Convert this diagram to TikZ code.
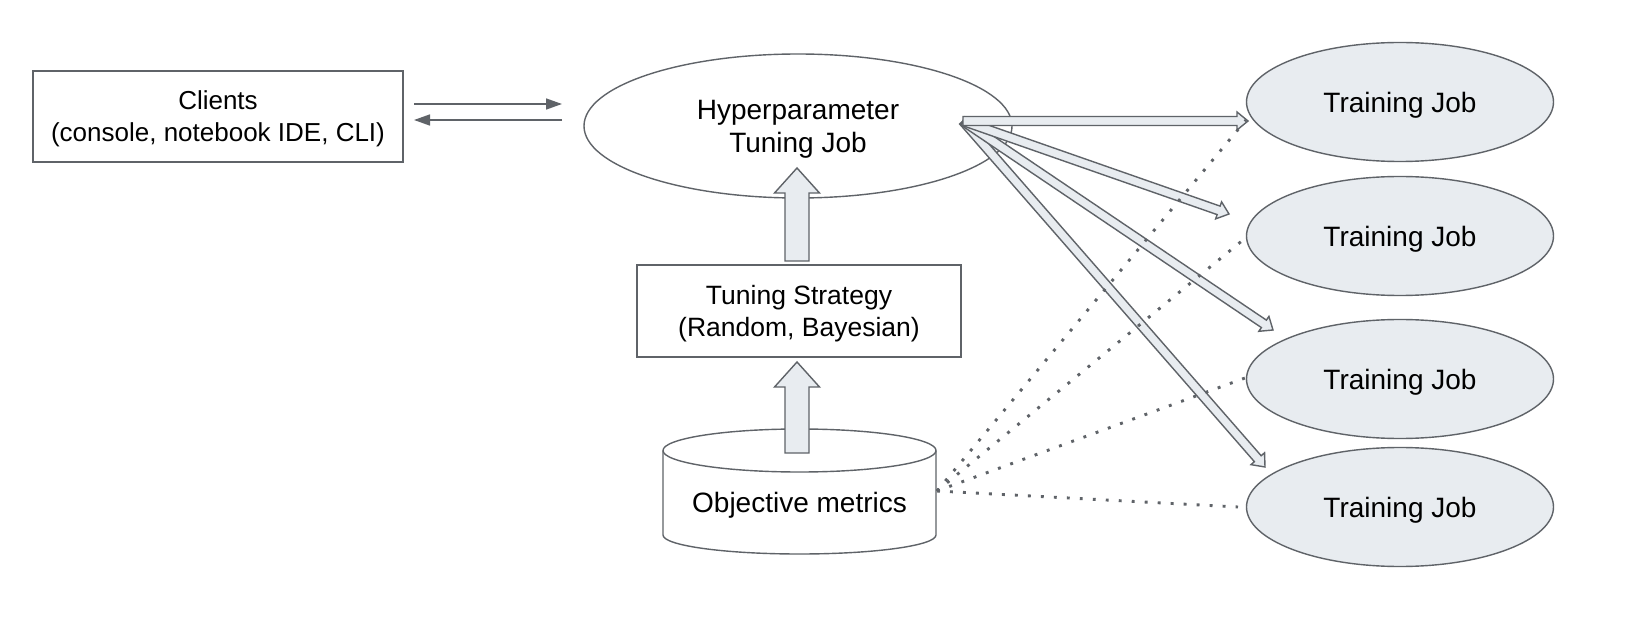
\documentclass[tikz,border=0pt]{standalone}
\usepackage{fontspec}
\setmainfont{Liberation Sans}
\usetikzlibrary{shapes.geometric,arrows.meta,calc}
\definecolor{edgegrey}{HTML}{5F6368}
\definecolor{jobfill}{HTML}{E8ECF0}
\tikzset{
  base/.style={draw=edgegrey, line width=1.4pt, text=black, align=center, inner sep=0pt},
  bigtext/.style={font=\fontsize{28}{33}\selectfont},
  smalltext/.style={font=\fontsize{26.5}{31.5}\selectfont},
  boxnode/.style={base, rectangle, fill=white},
  ellnode/.style={base, ellipse, fill=white},
  jobnode/.style={base, bigtext, ellipse, fill=jobfill, minimum width=307pt, minimum height=119pt, text depth=-2pt},
  thinarrow/.style={draw=edgegrey, line width=1.5pt, -{Triangle[length=16pt,width=11pt]}},
  blockarrow/.style={draw=edgegrey, fill=jobfill, line width=1.4pt, line join=miter},
  metricline/.style={draw=edgegrey, line width=2.9pt, dash pattern=on 2.9pt off 10.1pt},
  cylline/.style={draw=edgegrey, line width=1.4pt},
}
% block arrow: #1 from, #2 to, #3 shaft half width, #4 head half width, #5 head length
\newcommand{\blockarr}[5]{%
  \path ($(#2)!#5!(#1)$) coordinate (babase);
  \filldraw[blockarrow] ($(#1)!#3!90:(#2)$) -- ($(babase)!#3!-90:(#1)$) -- ($(babase)!#4!-90:(#1)$)
    -- (#2) -- ($(babase)!#4!90:(#1)$) -- ($(babase)!#3!90:(#1)$) -- ($(#1)!#3!-90:(#2)$) -- cycle;
}
\begin{document}
\begin{tikzpicture}[x=1pt,y=-1pt]
\useasboundingbox[fill=white] (0,0) rectangle (1650,620);

% nodes
\node[boxnode, font=\fontsize{26}{32}\selectfont, minimum width=370pt, minimum height=91pt, text depth=-1pt] (clients) at (218,116.5)
  {Clients\\(console, notebook IDE, CLI)};
\node[ellnode, bigtext, minimum width=428pt, minimum height=144pt, text depth=-3pt] (hp) at (798,126)
  {Hyperparameter\\Tuning Job};
\node[boxnode, smalltext, minimum width=324pt, minimum height=92pt, text depth=-1pt] (strat) at (799,311)
  {Tuning Strategy\\(Random, Bayesian)};

\node[jobnode] (tj1) at (1400,102) {Training Job};
\node[jobnode] (tj2) at (1400,236) {Training Job};
\node[jobnode] (tj3) at (1400,379) {Training Job};
\node[jobnode] (tj4) at (1400,507) {Training Job};

% cylinder (Objective metrics)
\fill[white] (663,450.5) rectangle (936,535);
\filldraw[cylline, fill=white] (663,450.5) -- (663,535)
  arc[start angle=180, end angle=360, x radius=136.5pt, y radius=19pt] -- (936,450.5);
\filldraw[cylline, fill=white] (799.5,450.5) ellipse[x radius=136.5pt, y radius=21.5pt];
\node[inner sep=0pt, bigtext] (obj) at (799.5,505) {Objective metrics};
\coordinate (objE) at (937,491);

% clients <-> hp
\coordinate (c2hA) at (414,104);
\coordinate (c2hB) at (562,104);
\coordinate (h2cA) at (562,120);
\coordinate (h2cB) at (414,120);
\draw[thinarrow] (c2hA) -- (c2hB);
\draw[thinarrow] (h2cA) -- (h2cB);

% vertical block arrows
\coordinate (up1s) at (797,261);
\coordinate (up1t) at (797,168);
\coordinate (up2s) at (797,453);
\coordinate (up2t) at (797,362);
\blockarr{up1s}{up1t}{12pt}{22.5pt}{25pt}
\blockarr{up2s}{up2t}{12pt}{22.5pt}{25pt}

% fan of arrows to training jobs
\coordinate (fan) at (963,121);
\coordinate (t1) at (1248,121);
\coordinate (t2) at (1229,214);
\coordinate (t3) at (1273,330);
\coordinate (t4) at (1265,467);
\blockarr{fan}{t4}{4.5pt}{9pt}{11pt}
\blockarr{fan}{t3}{4.5pt}{9pt}{11pt}
\blockarr{fan}{t2}{4.5pt}{9pt}{11pt}
\blockarr{fan}{t1}{4.5pt}{9pt}{11pt}

% dotted metric lines
\coordinate (d1) at (1246,120);
\coordinate (d2) at (1243,240);
\coordinate (d3) at (1245,378);
\coordinate (d4) at (1238,507);
\draw[metricline] (objE) -- (d1);
\draw[metricline] (objE) -- (d2);
\draw[metricline] (objE) -- (d3);
\draw[metricline] (objE) -- (d4);
\end{tikzpicture}
\end{document}
